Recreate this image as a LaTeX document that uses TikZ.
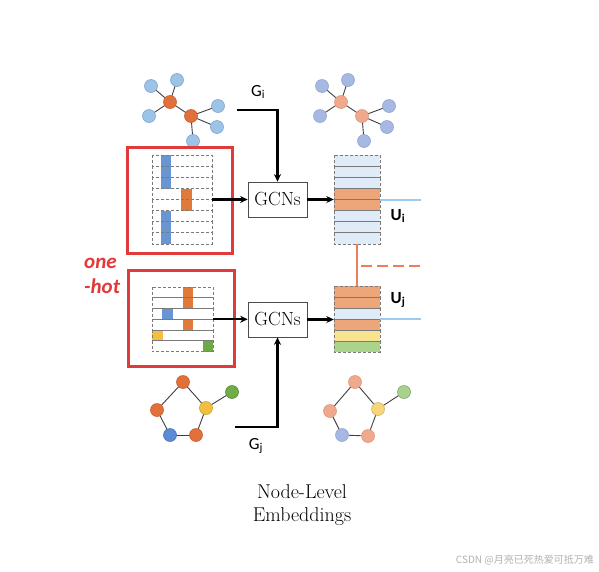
\documentclass[tikz,border=0pt]{standalone}
\usepackage{fontspec}
\newfontfamily\calib{Carlito}
\newfontfamily\cjk{Noto Sans CJK SC}
\usetikzlibrary{arrows.meta}
\pgfdeclarelayer{edges}
\pgfdeclarelayer{paper}
\pgfsetlayers{paper,edges,main}
\definecolor{nblue}{HTML}{9DC3E6}
\definecolor{nbluedr}{HTML}{7EA6D3}
\definecolor{norange}{HTML}{E2703A}
\definecolor{norangedr}{HTML}{C8602E}
\definecolor{rblue}{HTML}{A7B9E3}
\definecolor{rbluedr}{HTML}{8FA6D6}
\definecolor{rorange}{HTML}{EFA98C}
\definecolor{rorangedr}{HTML}{E29678}
\definecolor{ngreen}{HTML}{70AD47}
\definecolor{rgreen}{HTML}{A9D18E}
\definecolor{nyellow}{HTML}{F2C03E}
\definecolor{ryellow}{HTML}{F7D57A}
\definecolor{nblue2}{HTML}{5B8BD4}
\definecolor{barblue}{HTML}{6A95D3}
\definecolor{barorange}{HTML}{E07A3A}
\definecolor{baryellow}{HTML}{F2BF40}
\definecolor{bargreen}{HTML}{6DAA45}
\definecolor{vblue}{HTML}{DFEBF7}
\definecolor{vorange}{HTML}{EDA67A}
\definecolor{vyellow}{HTML}{F8E38E}
\definecolor{vgreen}{HTML}{ACD38B}
\definecolor{redbox}{HTML}{E03A3A}
\definecolor{dashorange}{HTML}{EE7D5C}
\definecolor{linkblue}{HTML}{9DCBF0}
\definecolor{gridgray}{HTML}{7A7A7A}
\tikzset{
  gnode/.style={circle,minimum size=13pt,inner sep=0pt,line width=0.6pt},
  gedge/.style={draw=black!75,line width=0.9pt},
  gridline/.style={draw=gridgray,dash pattern=on 3pt off 2pt,line width=0.9pt},
  conn/.style={draw=black,line width=2.2pt,-{Stealth[length=7.5pt,width=7pt]}},
  gcnbox/.style={draw=black!70,line width=0.7pt,minimum width=59pt,minimum height=35pt,inner sep=0pt,font=\fontsize{19}{22}\selectfont},
  slabel/.style={font=\calib\fontsize{17}{20}\selectfont,inner sep=0pt},
  ulabel/.style={font=\calib\bfseries\fontsize{17}{20}\selectfont,inner sep=0pt},
  hotlabel/.style={font=\calib\bfseries\itshape\fontsize{21}{24}\selectfont,text=redbox,inner sep=0pt},
  redframe/.style={draw=redbox,line width=3pt,inner sep=0pt},
  holder/.style={inner sep=0pt,minimum width=#1}
}
\begin{document}
\begin{tikzpicture}[x=1pt,y=-1pt]
\begin{pgfonlayer}{paper}
\fill[white] (0,0) rectangle (599,571);
\end{pgfonlayer}
\useasboundingbox (0,0) rectangle (599,571);

% ---------- top-left graph Gi ----------
\foreach \n/\x/\y/\f/\d in {a1/151/86/nblue/nbluedr,a2/177/80/nblue/nbluedr,a3/149/116/nblue/nbluedr,a4/218/106/nblue/nbluedr,a5/217/127/nblue/nbluedr,a6/193/141/nblue/nbluedr,ao1/170/102/norange/norangedr,ao2/191/116/norange/norangedr}
  \node[gnode,fill=\f,draw=\d] (\n) at (\x,\y) {};
\begin{pgfonlayer}{edges}
\foreach \a/\b in {ao1/a1,ao1/a2,ao1/a3,ao1/ao2,ao2/a4,ao2/a5,ao2/a6}
  \draw[gedge] (\a.center) -- (\b.center);
\end{pgfonlayer}

% ---------- top-right graph ----------
\foreach \n/\x/\y/\f/\d in {b1/322/86/rblue/rbluedr,b2/348/80/rblue/rbluedr,b3/320/116/rblue/rbluedr,b4/389/106/rblue/rbluedr,b5/387/127/rblue/rbluedr,b6/364/141/rblue/rbluedr,bo1/341/102/rorange/rorangedr,bo2/362/116/rorange/rorangedr}
  \node[gnode,fill=\f,draw=\d] (\n) at (\x,\y) {};
\begin{pgfonlayer}{edges}
\foreach \a/\b in {bo1/b1,bo1/b2,bo1/b3,bo1/bo2,bo2/b4,bo2/b5,bo2/b6}
  \draw[gedge] (\a.center) -- (\b.center);
\end{pgfonlayer}

% ---------- bottom-left graph Gj ----------
\foreach \n/\x/\y/\f/\d in {c1/183/382/norange/norangedr,c2/232/392/ngreen/ngreen!80!black,c3/206/408/nyellow/nyellow!85!black,c4/157/410/norange/norangedr,c5/170/435/nblue2/nblue2!85!black,c6/196/435/norange/norangedr}
  \node[gnode,fill=\f,draw=\d] (\n) at (\x,\y) {};
\begin{pgfonlayer}{edges}
\foreach \a/\b in {c1/c3,c1/c4,c3/c2,c3/c6,c4/c5,c5/c6}
  \draw[gedge] (\a.center) -- (\b.center);
\end{pgfonlayer}

% ---------- bottom-right graph ----------
\foreach \n/\x/\y/\f/\d in {d1/355/382/rorange/rorangedr,d2/404/392/rgreen/rgreen!80!black,d3/378/409/ryellow/ryellow!85!black,d4/330/411/rorange/rorangedr,d5/342/435/rblue/rbluedr,d6/368/436/rorange/rorangedr}
  \node[gnode,fill=\f,draw=\d] (\n) at (\x,\y) {};
\begin{pgfonlayer}{edges}
\foreach \a/\b in {d1/d3,d1/d4,d3/d2,d3/d6,d4/d5,d5/d6}
  \draw[gedge] (\a.center) -- (\b.center);
\end{pgfonlayer}

% ---------- red frames ----------
\node[redframe,minimum width=105pt,minimum height=106pt] (rf1) at (179.5,200) {};
\node[redframe,minimum width=106pt,minimum height=96pt] (rf2) at (181,318) {};

% ---------- one-hot grid (top) ----------
\fill[barblue] (161,155) rectangle (171,189);
\fill[barorange] (181,189) rectangle (192,211);
\fill[barblue] (161,211) rectangle (171,244);
\foreach \k in {0,...,7}
  \draw[gridline] (152,{155+\k*11.125}) rectangle (212,{155+(\k+1)*11.125});
\node[holder=60pt,minimum height=89pt] (oh1) at (182,199.5) {};

% ---------- one-hot grid (bottom) ----------
\fill[barorange] (183,287) rectangle (193,297.8);
\fill[barorange] (183,297.8) rectangle (193,308.5);
\fill[barblue] (162,308.5) rectangle (173,319.2);
\fill[barorange] (183,319.2) rectangle (193,330);
\fill[baryellow] (152,330) rectangle (163,340.7);
\fill[bargreen] (203,340.7) rectangle (213,351.5);
\foreach \k in {0,...,5}
  \draw[gridline] (152,{287+\k*10.75}) rectangle (213,{287+(\k+1)*10.75});
\node[holder=61pt,minimum height=64.5pt] (oh2) at (182.5,319.25) {};

% ---------- GCN boxes ----------
\node[gcnbox] (g1) at (277.5,199.5) {GCNs};
\node[gcnbox] (g2) at (277.5,319.5) {GCNs};

% ---------- embedding vectors ----------
\foreach \k/\c in {0/vblue,1/vblue,2/vblue,3/vorange,4/vorange,5/vblue,6/vblue,7/vblue}
  \fill[\c] (334,{155+\k*11.125}) rectangle (380,{155+(\k+1)*11.125});
\foreach \k in {0,...,7}
  \draw[gridline] (334,{155+\k*11.125}) rectangle (380,{155+(\k+1)*11.125});
\node[holder=46pt,minimum height=89pt] (v1) at (357,199.5) {};

\foreach \k/\c in {0/vorange,1/vorange,2/vblue,3/vorange,4/vyellow,5/vgreen}
  \fill[\c] (334,{286+\k*11}) rectangle (380,{286+(\k+1)*11});
\foreach \k in {0,...,5}
  \draw[gridline] (334,{286+\k*11}) rectangle (380,{286+(\k+1)*11});
\node[holder=46pt,minimum height=66pt] (v2) at (357,319) {};

% ---------- connectors ----------
\draw[conn] (oh1.east) -- (g1.west);
\draw[conn] (oh2.east) -- (oh2.east -| g2.west);
\draw[conn] (g1.east) -- (v1.west);
\draw[conn] (g2.east) -- (g2.east -| v2.west);

\coordinate (gis) at (237,110);
\coordinate (gjs) at (235,427);
\draw[conn] (gis) -| (g1.north);
\draw[conn] (gjs) -| (g2.south);

\node[slabel] (lgi) at (258,92) {G\textsubscript{i}};
\node[slabel] (lgj) at (256,446) {G\textsubscript{j}};

% ---------- links to the right ----------
\coordinate (e1) at (421,199.5);
\coordinate (e2) at (421,319);
\draw[linkblue,line width=2pt] (v1.east) -- (e1);
\draw[linkblue,line width=2pt] (v2.east) -- (e2);
\node[ulabel] (ui) at (398,216) {U\textsubscript{i}};
\node[ulabel] (uj) at (398,300) {U\textsubscript{j}};

\coordinate (dj) at (357,266);
\coordinate (de) at (421,266);
\draw[dashorange,line width=2.2pt] (v1.south) -- (v2.north);
\draw[dashorange,line width=2.2pt,dash pattern=on 11pt off 5pt] ([xshift=4pt]dj) -- (de);

% ---------- texts ----------
\node[hotlabel,anchor=west] (one) at (84,263) {one};
\node[hotlabel,anchor=west] (hot) at (84,286) {-hot};
\node[font=\fontsize{20}{23}\selectfont,align=center,inner sep=0pt] (cap) at (302,505) {Node-Level\\Embeddings};
\node[font=\cjk\fontsize{10}{12}\selectfont,text=black!30,anchor=east,inner sep=0pt] (wm) at (594,560) {CSDN @月亮已死热爱可抵万难};
\end{tikzpicture}
\end{document}
